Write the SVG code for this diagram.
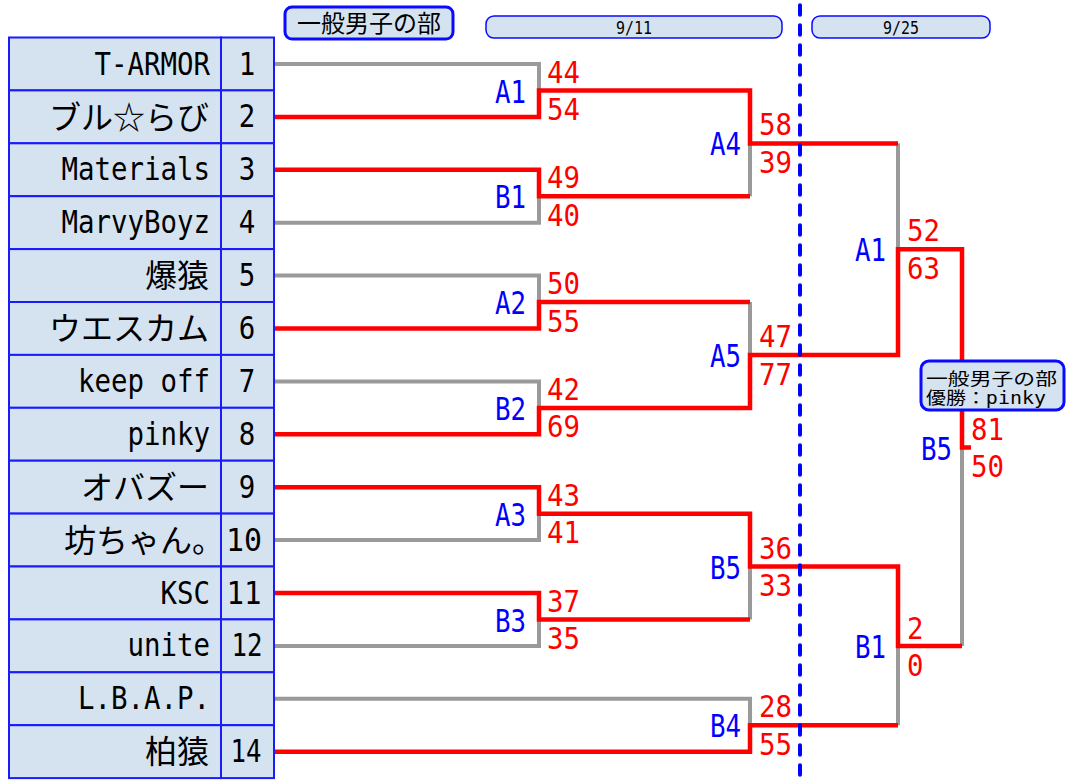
<svg xmlns="http://www.w3.org/2000/svg" width="1066" height="782" viewBox="0 0 1066 782">
<style>
.cell{fill:#d5e3f0;stroke:#1a1aff;stroke-width:2}
.en{font-family:"DejaVu Sans Mono","Liberation Mono",monospace;font-size:32px;fill:#000}
.jp{font-family:"Noto Sans CJK JP","DejaVu Sans",sans-serif;font-size:32px;fill:#000}
.lbl{font-family:"DejaVu Sans Mono","Liberation Mono",monospace;font-size:32px;fill:#0000ff;text-anchor:end}
.sc{font-family:"DejaVu Sans Mono","Liberation Mono",monospace;font-size:30px;fill:#ff0000}
.red{fill:none;stroke:#ff0000;stroke-width:4.5}
.gray{fill:none;stroke:#9a9a9a;stroke-width:4}
.hdr{fill:#d5e3f0;stroke:#0a0aff}
</style>

<g id="header">
  <rect class="hdr" x="285" y="7" width="168" height="32" rx="7" stroke-width="3"/>
  <text x="369" y="32" class="jp" text-anchor="middle" style="font-size:24px">一般男子の部</text>
</g>
<g id="date-911">
  <rect class="hdr" x="486" y="16" width="296" height="22" rx="8" stroke-width="1.5"/>
  <text x="634" y="33.5" class="en" style="font-size:18px" text-anchor="middle" textLength="36" lengthAdjust="spacingAndGlyphs">9/11</text>
</g>
<g id="date-925">
  <rect class="hdr" x="812" y="16" width="178" height="22" rx="8" stroke-width="1.5"/>
  <text x="901" y="33.5" class="en" style="font-size:18px" text-anchor="middle" textLength="36" lengthAdjust="spacingAndGlyphs">9/25</text>
</g>

<g id="connectors">
  <path class="gray" d="M274,64 H539 V90.5"/>
  <path class="gray" d="M274,222.7 H539 V196.3"/>
  <path class="gray" d="M274,275.6 H539 V302"/>
  <path class="gray" d="M274,381.4 H539 V407.9"/>
  <path class="gray" d="M274,540.1 H539 V513.7"/>
  <path class="gray" d="M274,645.9 H539 V619.5"/>
  <path class="gray" d="M274,698.8 H750 V725.3"/>
  <path class="gray" d="M750,196.3 V143.4"/>
  <path class="gray" d="M750,302 V355"/>
  <path class="gray" d="M750,619.5 V566.6"/>
  <path class="gray" d="M898,143.4 V249.2"/>
  <path class="gray" d="M898,725.3 V646"/>
  <path class="gray" d="M962,646 V447.6"/>
  <path class="red" d="M274,116.9 H539 V90.5 H750 V143.4 H898"/>
  <path class="red" d="M274,169.8 H539 V196.3 H750"/>
  <path class="red" d="M274,328.5 H539 V302 H750"/>
  <path class="red" d="M274,434.3 H539 V407.9 H750 V355 H898 V249.2 H962 V447.6 H971"/>
  <path class="red" d="M274,487.2 H539 V513.7 H750 V566.6 H898 V646 H962"/>
  <path class="red" d="M274,593 H539 V619.5 H750"/>
  <path class="red" d="M274,751.7 H750 V725.3 H898"/>
</g>

<g id="teams">
  <g id="team-1"><rect class="cell" x="9" y="37.5" width="212" height="52.9"/><rect class="cell" x="221" y="37.5" width="53" height="52.9"/>
    <text class="en" x="210" y="74.5" text-anchor="end" textLength="115.5" lengthAdjust="spacingAndGlyphs">T-ARMOR</text>
    <text class="en" x="247" y="74.5" text-anchor="middle" textLength="16.5" lengthAdjust="spacingAndGlyphs">1</text></g>
  <g id="team-2"><rect class="cell" x="9" y="90.4" width="212" height="52.9"/><rect class="cell" x="221" y="90.4" width="53" height="52.9"/>
    <text class="jp" x="209" y="128.5" text-anchor="end">ブル☆らび</text>
    <text class="en" x="247" y="127.4" text-anchor="middle" textLength="16.5" lengthAdjust="spacingAndGlyphs">2</text></g>
  <g id="team-3"><rect class="cell" x="9" y="143.3" width="212" height="52.9"/><rect class="cell" x="221" y="143.3" width="53" height="52.9"/>
    <text class="en" x="210" y="180.3" text-anchor="end" textLength="148.5" lengthAdjust="spacingAndGlyphs">Materials</text>
    <text class="en" x="247" y="180.3" text-anchor="middle" textLength="16.5" lengthAdjust="spacingAndGlyphs">3</text></g>
  <g id="team-4"><rect class="cell" x="9" y="196.2" width="212" height="52.9"/><rect class="cell" x="221" y="196.2" width="53" height="52.9"/>
    <text class="en" x="210" y="233.2" text-anchor="end" textLength="148.5" lengthAdjust="spacingAndGlyphs">MarvyBoyz</text>
    <text class="en" x="247" y="233.2" text-anchor="middle" textLength="16.5" lengthAdjust="spacingAndGlyphs">4</text></g>
  <g id="team-5"><rect class="cell" x="9" y="249.1" width="212" height="52.9"/><rect class="cell" x="221" y="249.1" width="53" height="52.9"/>
    <text class="jp" x="209" y="287.2" text-anchor="end">爆猿</text>
    <text class="en" x="247" y="286.1" text-anchor="middle" textLength="16.5" lengthAdjust="spacingAndGlyphs">5</text></g>
  <g id="team-6"><rect class="cell" x="9" y="302" width="212" height="52.9"/><rect class="cell" x="221" y="302" width="53" height="52.9"/>
    <text class="jp" x="209" y="340.1" text-anchor="end">ウエスカム</text>
    <text class="en" x="247" y="339" text-anchor="middle" textLength="16.5" lengthAdjust="spacingAndGlyphs">6</text></g>
  <g id="team-7"><rect class="cell" x="9" y="354.9" width="212" height="52.9"/><rect class="cell" x="221" y="354.9" width="53" height="52.9"/>
    <text class="en" x="210" y="391.9" text-anchor="end" textLength="132" lengthAdjust="spacingAndGlyphs">keep off</text>
    <text class="en" x="247" y="391.9" text-anchor="middle" textLength="16.5" lengthAdjust="spacingAndGlyphs">7</text></g>
  <g id="team-8"><rect class="cell" x="9" y="407.8" width="212" height="52.9"/><rect class="cell" x="221" y="407.8" width="53" height="52.9"/>
    <text class="en" x="210" y="444.8" text-anchor="end" textLength="82.5" lengthAdjust="spacingAndGlyphs">pinky</text>
    <text class="en" x="247" y="444.8" text-anchor="middle" textLength="16.5" lengthAdjust="spacingAndGlyphs">8</text></g>
  <g id="team-9"><rect class="cell" x="9" y="460.7" width="212" height="52.9"/><rect class="cell" x="221" y="460.7" width="53" height="52.9"/>
    <text class="jp" x="209" y="498.8" text-anchor="end">オバズー</text>
    <text class="en" x="247" y="497.7" text-anchor="middle" textLength="16.5" lengthAdjust="spacingAndGlyphs">9</text></g>
  <g id="team-10"><rect class="cell" x="9" y="513.6" width="212" height="52.9"/><rect class="cell" x="221" y="513.6" width="53" height="52.9"/>
    <text class="jp" x="224" y="551.7" text-anchor="end">坊ちゃん。</text>
    <text class="en" x="244" y="550.6" text-anchor="middle" textLength="36" lengthAdjust="spacingAndGlyphs">10</text></g>
  <g id="team-11"><rect class="cell" x="9" y="566.5" width="212" height="52.9"/><rect class="cell" x="221" y="566.5" width="53" height="52.9"/>
    <text class="en" x="210" y="603.5" text-anchor="end" textLength="49.5" lengthAdjust="spacingAndGlyphs">KSC</text>
    <text class="en" x="244" y="603.5" text-anchor="middle" textLength="35" lengthAdjust="spacingAndGlyphs">11</text></g>
  <g id="team-12"><rect class="cell" x="9" y="619.4" width="212" height="52.9"/><rect class="cell" x="221" y="619.4" width="53" height="52.9"/>
    <text class="en" x="210" y="656.4" text-anchor="end" textLength="82.5" lengthAdjust="spacingAndGlyphs">unite</text>
    <text class="en" x="247" y="656.4" text-anchor="middle" textLength="31" lengthAdjust="spacingAndGlyphs">12</text></g>
  <g id="team-13"><rect class="cell" x="9" y="672.3" width="212" height="52.9"/><rect class="cell" x="221" y="672.3" width="53" height="52.9"/>
    <text class="en" x="210" y="709.3" text-anchor="end" textLength="132" lengthAdjust="spacingAndGlyphs">L.B.A.P.</text></g>
  <g id="team-14"><rect class="cell" x="9" y="725.2" width="212" height="52.9"/><rect class="cell" x="221" y="725.2" width="53" height="52.9"/>
    <text class="jp" x="209" y="763.3" text-anchor="end">柏猿</text>
    <text class="en" x="246" y="762.2" text-anchor="middle" textLength="31" lengthAdjust="spacingAndGlyphs">14</text></g>
</g>

<g id="matches">
  <g id="r1-A1"><text class="lbl" x="526" y="102.5" textLength="31" lengthAdjust="spacingAndGlyphs">A1</text>
    <text class="sc" x="547" y="82.5" textLength="33" lengthAdjust="spacingAndGlyphs">44</text><text class="sc" x="547" y="120" textLength="33" lengthAdjust="spacingAndGlyphs">54</text></g>
  <g id="r1-B1"><text class="lbl" x="526" y="208.3" textLength="31" lengthAdjust="spacingAndGlyphs">B1</text>
    <text class="sc" x="547" y="188.3" textLength="33" lengthAdjust="spacingAndGlyphs">49</text><text class="sc" x="547" y="225.8" textLength="33" lengthAdjust="spacingAndGlyphs">40</text></g>
  <g id="r1-A2"><text class="lbl" x="526" y="314" textLength="31" lengthAdjust="spacingAndGlyphs">A2</text>
    <text class="sc" x="547" y="294" textLength="33" lengthAdjust="spacingAndGlyphs">50</text><text class="sc" x="547" y="331.5" textLength="33" lengthAdjust="spacingAndGlyphs">55</text></g>
  <g id="r1-B2"><text class="lbl" x="526" y="419.9" textLength="31" lengthAdjust="spacingAndGlyphs">B2</text>
    <text class="sc" x="547" y="399.9" textLength="33" lengthAdjust="spacingAndGlyphs">42</text><text class="sc" x="547" y="437.4" textLength="33" lengthAdjust="spacingAndGlyphs">69</text></g>
  <g id="r1-A3"><text class="lbl" x="526" y="525.7" textLength="31" lengthAdjust="spacingAndGlyphs">A3</text>
    <text class="sc" x="547" y="505.7" textLength="33" lengthAdjust="spacingAndGlyphs">43</text><text class="sc" x="547" y="543.2" textLength="33" lengthAdjust="spacingAndGlyphs">41</text></g>
  <g id="r1-B3"><text class="lbl" x="526" y="631.5" textLength="31" lengthAdjust="spacingAndGlyphs">B3</text>
    <text class="sc" x="547" y="611.5" textLength="33" lengthAdjust="spacingAndGlyphs">37</text><text class="sc" x="547" y="649" textLength="33" lengthAdjust="spacingAndGlyphs">35</text></g>
  <g id="r2-A4"><text class="lbl" x="741" y="155.4" textLength="31" lengthAdjust="spacingAndGlyphs">A4</text>
    <text class="sc" x="759" y="135.4" textLength="33" lengthAdjust="spacingAndGlyphs">58</text><text class="sc" x="759" y="172.9" textLength="33" lengthAdjust="spacingAndGlyphs">39</text></g>
  <g id="r2-A5"><text class="lbl" x="741" y="367" textLength="31" lengthAdjust="spacingAndGlyphs">A5</text>
    <text class="sc" x="759" y="347" textLength="33" lengthAdjust="spacingAndGlyphs">47</text><text class="sc" x="759" y="384.5" textLength="33" lengthAdjust="spacingAndGlyphs">77</text></g>
  <g id="r2-B5"><text class="lbl" x="741" y="578.6" textLength="31" lengthAdjust="spacingAndGlyphs">B5</text>
    <text class="sc" x="759" y="558.6" textLength="33" lengthAdjust="spacingAndGlyphs">36</text><text class="sc" x="759" y="596.1" textLength="33" lengthAdjust="spacingAndGlyphs">33</text></g>
  <g id="r2-B4"><text class="lbl" x="741" y="737.3" textLength="31" lengthAdjust="spacingAndGlyphs">B4</text>
    <text class="sc" x="759" y="717.3" textLength="33" lengthAdjust="spacingAndGlyphs">28</text><text class="sc" x="759" y="754.8" textLength="33" lengthAdjust="spacingAndGlyphs">55</text></g>
  <g id="r3-A1"><text class="lbl" x="886" y="261.2" textLength="31" lengthAdjust="spacingAndGlyphs">A1</text>
    <text class="sc" x="907" y="241.2" textLength="33" lengthAdjust="spacingAndGlyphs">52</text><text class="sc" x="907" y="278.7" textLength="33" lengthAdjust="spacingAndGlyphs">63</text></g>
  <g id="r3-B1"><text class="lbl" x="886" y="658" textLength="31" lengthAdjust="spacingAndGlyphs">B1</text>
    <text class="sc" x="907" y="639" textLength="16.5" lengthAdjust="spacingAndGlyphs">2</text><text class="sc" x="907" y="676" textLength="16.5" lengthAdjust="spacingAndGlyphs">0</text></g>
  <g id="final-B5"><text class="lbl" x="952" y="459.6" textLength="31" lengthAdjust="spacingAndGlyphs">B5</text>
    <text class="sc" x="971" y="439.6" textLength="33" lengthAdjust="spacingAndGlyphs">81</text><text class="sc" x="971" y="477.1" textLength="33" lengthAdjust="spacingAndGlyphs">50</text></g>
</g>

<g id="day-divider">
  <line x1="800" y1="0" x2="800" y2="782" stroke="#0000ff" stroke-width="4" stroke-dasharray="9.5 10.5" stroke-dashoffset="-5.3" stroke-linecap="round"/>
</g>

<g id="champion">
  <rect class="hdr" x="921" y="361" width="143" height="49" rx="8" stroke-width="3"/>
  <text class="jp" x="926" y="385" style="font-size:17px" textLength="131" lengthAdjust="spacingAndGlyphs">一般男子の部</text>
  <text class="jp" x="926" y="403.5" style="font-size:17px" textLength="120" lengthAdjust="spacingAndGlyphs">優勝：<tspan font-family="DejaVu Sans Mono">pinky</tspan></text>
</g>
</svg>
